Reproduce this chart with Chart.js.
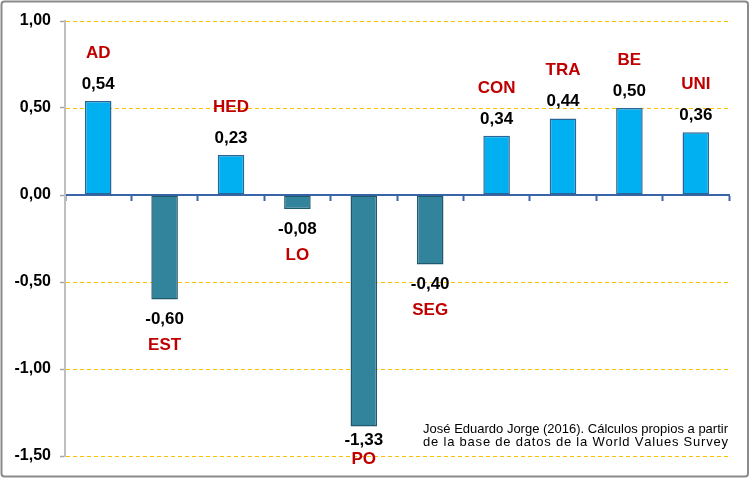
<!DOCTYPE html>
<html><head><meta charset="utf-8">
<script src="https://cdn.jsdelivr.net/npm/chart.js@4"></script>
<style>html,body{margin:0;padding:0;background:#fff}#wrap{width:750px;height:478px;position:relative}</style>
</head><body><div id="wrap"><canvas id="c"></canvas></div>
<script>
const categories = ['AD','EST','HED','LO','PO','SEG','CON','TRA','BE','UNI'];
const values = [0.54,-0.60,0.23,-0.08,-1.33,-0.40,0.34,0.44,0.50,0.36];
const yTicks = [1.0,0.5,0,-0.5,-1.0,-1.5];
const creditLines = ['José Eduardo Jorge (2016). Cálculos propios a partir','de la base de datos de la World Values Survey'];

const FONT = 'Liberation Sans, Arial, sans-serif';
const fmt = v => v.toFixed(2).replace('.', ',');

const framePlugin = {
  id: 'frame',
  beforeDraw(chart) {
    const ctx = chart.ctx;
    ctx.save();
    ctx.fillStyle = '#fff';
    ctx.fillRect(0, 0, chart.width, chart.height);
    ctx.strokeStyle = '#8a8a8a';
    ctx.lineWidth = 2;
    ctx.beginPath();
    ctx.roundRect(1.5, 1.5, chart.width - 3.5, chart.height - 3, 3);
    ctx.stroke();
    ctx.restore();
  }
};

const gridPlugin = {
  id: 'dashGrid',
  beforeDatasetsDraw(chart) {
    const {ctx, chartArea} = chart;
    const y = chart.scales.y;
    ctx.save();
    ctx.strokeStyle = '#FFC000';
    ctx.lineWidth = 1;
    ctx.setLineDash([4, 3]);
    yTicks.forEach(v => {
      if (v === 0) return;
      const py = Math.round(y.getPixelForValue(v)) + 0.5;
      ctx.beginPath();
      ctx.moveTo(chartArea.left + 1, py);
      ctx.lineTo(chartArea.right, py);
      ctx.stroke();
    });
    ctx.restore();
  }
};

const labelPlugin = {
  id: 'barLabels',
  afterDatasetsDraw(chart) {
    const ctx = chart.ctx;
    const meta = chart.getDatasetMeta(0);
    ctx.save();
    ctx.font = 'bold 17px ' + FONT;
    ctx.textAlign = 'center';
    ctx.textBaseline = 'middle';
    meta.data.forEach((bar, i) => {
      const v = values[i];
      let vy, ny;
      if (v >= 0) {
        vy = bar.y - 17;
        ny = bar.y - 48;
      } else {
        ny = Math.min(bar.y + 46, chart.height - 19);
        vy = Math.min(bar.y + 20, ny - 19);
      }
      ctx.fillStyle = '#000';
      ctx.fillText(fmt(v), bar.x, vy);
      ctx.fillStyle = '#C00000';
      ctx.fillText(categories[i], bar.x, ny);
    });
    ctx.restore();
  }
};

const creditPlugin = {
  id: 'credit',
  afterDraw(chart) {
    const {ctx, chartArea} = chart;
    const base = chart.scales.y.getPixelForValue(-1.5);
    ctx.save();
    ctx.font = '13px ' + FONT;
    ctx.fillStyle = '#000';
    ctx.textBaseline = 'middle';
    const right = chartArea.right - 1;
    const w1 = ctx.measureText(creditLines[0]).width;
    const left = right - w1;
    ctx.textAlign = 'right';
    ctx.fillText(creditLines[0], right, base - 27);
    const chars = creditLines[1].split('');
    const widths = chars.map(c => ctx.measureText(c).width);
    const total = widths.reduce((a, b) => a + b, 0);
    const gap = (w1 - total) / (chars.length - 1);
    ctx.textAlign = 'left';
    let x = left;
    chars.forEach((c, i) => { ctx.fillText(c, x, base - 14); x += widths[i] + gap; });
    ctx.restore();
  }
};

new Chart(document.getElementById('c'), {
  type: 'bar',
  data: {
    labels: categories,
    datasets: [{
      data: values,
      backgroundColor: values.map(v => v >= 0 ? '#00B0F0' : '#31849B'),
      borderColor: values.map(v => v >= 0 ? '#2B6596' : '#215A6E'),
      borderWidth: 1.5,
      borderSkipped: false,
      barPercentage: 0.8,
      categoryPercentage: 0.5
    }]
  },
  options: {
    responsive: true,
    maintainAspectRatio: false,
    animation: false,
    devicePixelRatio: 1,
    layout: { padding: { left: 0, right: 21, top: 21, bottom: 22 } },
    plugins: { legend: { display: false }, tooltip: { enabled: false } },
    scales: {
      x: {
        position: { y: 0 },
        z: 1,
        ticks: { display: false },
        grid: { offset: true, drawOnChartArea: false, drawTicks: true, tickLength: 5, color: '#3A64A8', tickColor: '#3A64A8', tickWidth: 2 },
        border: { display: true, color: '#3A64A8', width: 2 }
      },
      y: {
        min: Math.min(...yTicks),
        max: Math.max(...yTicks),
        afterBuildTicks: s => { s.ticks = yTicks.map(v => ({ value: v })); },
        afterFit: s => { s.width = 65; },
        ticks: { callback: v => fmt(v), font: { family: FONT, size: 16, weight: 'bold' }, color: '#000', padding: 9 },
        grid: { drawOnChartArea: false, drawTicks: true, tickLength: 5, color: '#A6A6A6', tickColor: '#A6A6A6', tickWidth: 1.5 },
        border: { display: true, color: '#BFBFBF', width: 2 }
      }
    }
  },
  plugins: [framePlugin, gridPlugin, labelPlugin, creditPlugin]
});
</script></body></html>
